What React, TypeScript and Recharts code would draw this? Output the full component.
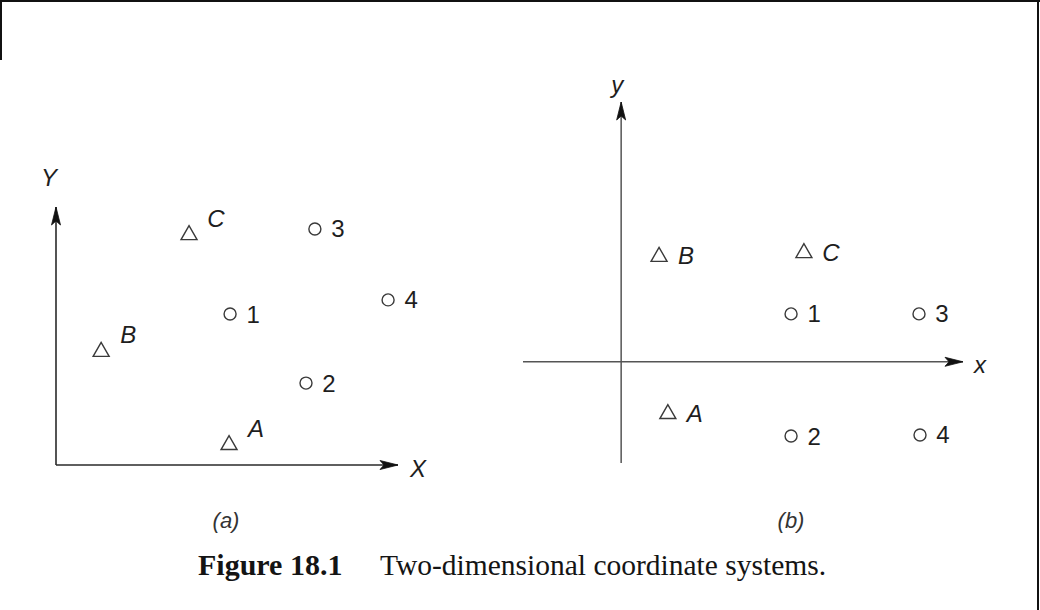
import React from "react";
import { ScatterChart, Scatter, XAxis, YAxis, ReferenceLine } from "recharts";

// Panel (a): measurement points (circles) and control points (triangles)
const aPoints = [
  { name: "1", x: 5.09, y: 4.68 },
  { name: "2", x: 7.31, y: 2.54 },
  { name: "3", x: 7.57, y: 7.32 },
  { name: "4", x: 9.71, y: 5.12 },
];
const aControl = [
  { name: "A", x: 5.06, y: 0.68 },
  { name: "B", x: 1.32, y: 3.57 },
  { name: "C", x: 3.89, y: 7.19 },
];
const aDomainX: [number, number] = [0, 10];
const aDomainY: [number, number] = [0, 8];
const aAxisNames = ["X", "Y"];

// Panel (b)
const bPoints = [
  { name: "1", x: 5.02, y: 1.42 },
  { name: "2", x: 5.02, y: -2.2 },
  { name: "3", x: 8.8, y: 1.42 },
  { name: "4", x: 8.83, y: -2.17 },
];
const bControl = [
  { name: "A", x: 1.38, y: -1.49 },
  { name: "B", x: 1.12, y: 3.17 },
  { name: "C", x: 5.4, y: 3.28 },
];
const bDomainX: [number, number] = [-2.9, 10.1];
const bDomainY: [number, number] = [-3, 7.7];
const bAxisNames = ["x", "y"];

const captions = ["(a)", "(b)"];
const figureLabel = "Figure 18.1";
const figureTitle = "Two-dimensional coordinate systems.";

const SANS = "'Liberation Sans', Arial, Helvetica, sans-serif";
const SERIF = "'Liberation Serif', 'Times New Roman', serif";
const MARK = "#3a3a3a";
const TEXT = "#1e1e1e";

const makeCircle = (dx: number, dy: number) => (props: any) => {
  const { cx, cy, payload } = props;
  return (
    <g>
      <circle cx={cx} cy={cy} r={6} fill="none" stroke={MARK} strokeWidth={1.4} />
      <text
        x={cx + dx}
        y={cy + dy}
        textAnchor="middle"
        dominantBaseline="central"
        fontFamily={SANS}
        fontSize={24}
        fill={TEXT}
      >
        {payload.name}
      </text>
    </g>
  );
};

const makeTriangle = (dx: number, dy: number) => (props: any) => {
  const { cx, cy, payload } = props;
  const h = 13;
  const w = 16;
  const pts = `${cx},${cy - h / 2 - 1} ${cx - w / 2},${cy + h / 2} ${cx + w / 2},${cy + h / 2}`;
  return (
    <g>
      <polygon points={pts} fill="none" stroke={MARK} strokeWidth={1.4} strokeLinejoin="miter" />
      <text
        x={cx + dx}
        y={cy + dy}
        textAnchor="middle"
        dominantBaseline="central"
        fontFamily={SANS}
        fontStyle="italic"
        fontSize={24}
        fill={TEXT}
      >
        {payload.name}
      </text>
    </g>
  );
};

const makeArrow = (dir: "right" | "up", label: string, ldx: number, ldy: number, color: string) => (props: any) => {
  const { cx, cy } = props;
  const L = 18;
  const W = 4.5;
  const pts =
    dir === "right"
      ? `${cx},${cy} ${cx - L},${cy - W} ${cx - L + 4},${cy} ${cx - L},${cy + W}`
      : `${cx},${cy} ${cx - W},${cy + L} ${cx},${cy + L - 4} ${cx + W},${cy + L}`;
  return (
    <g>
      <polygon points={pts} fill={color} stroke={color} strokeWidth={0.8} />
      <text
        x={cx + ldx}
        y={cy + ldy}
        textAnchor="middle"
        dominantBaseline="central"
        fontFamily={SANS}
        fontStyle="italic"
        fontSize={24}
        fill={TEXT}
      >
        {label}
      </text>
    </g>
  );
};

function PanelA() {
  const axisColor = "#2a2a2a";
  return (
    <div style={{ position: "absolute", left: 0, top: 0 }}>
      <ScatterChart width={520} height={500} margin={{ left: 56, right: 122, top: 207, bottom: 35 }}>
        <XAxis type="number" dataKey="x" domain={aDomainX} hide />
        <YAxis type="number" dataKey="y" domain={aDomainY} hide />
        <ReferenceLine
          segment={[{ x: aDomainX[0], y: 0 }, { x: aDomainX[1], y: 0 }]}
          stroke={axisColor}
          strokeWidth={1.6}
          ifOverflow="visible"
        />
        <ReferenceLine
          segment={[{ x: 0, y: aDomainY[0] }, { x: 0, y: aDomainY[1] }]}
          stroke={axisColor}
          strokeWidth={1.6}
          ifOverflow="visible"
        />
        <Scatter
          data={[{ x: aDomainX[1], y: 0 }]}
          shape={makeArrow("right", aAxisNames[0], 20, 3, "#111")}
          isAnimationActive={false}
        />
        <Scatter
          data={[{ x: 0, y: aDomainY[1] }]}
          shape={makeArrow("up", aAxisNames[1], -7, -30, "#111")}
          isAnimationActive={false}
        />
        <Scatter data={aPoints} shape={makeCircle(23, 0)} isAnimationActive={false} />
        <Scatter data={aControl} shape={makeTriangle(27, -15)} isAnimationActive={false} />
      </ScatterChart>
    </div>
  );
}

function PanelB() {
  const axisColor = "#555";
  return (
    <div style={{ position: "absolute", left: 500, top: 0 }}>
      <ScatterChart width={540} height={500} margin={{ left: 23, right: 77, top: 102, bottom: 37 }}>
        <XAxis type="number" dataKey="x" domain={bDomainX} hide />
        <YAxis type="number" dataKey="y" domain={bDomainY} hide />
        <ReferenceLine
          segment={[{ x: bDomainX[0], y: 0 }, { x: bDomainX[1], y: 0 }]}
          stroke={axisColor}
          strokeWidth={1.5}
          ifOverflow="visible"
        />
        <ReferenceLine
          segment={[{ x: 0, y: bDomainY[0] }, { x: 0, y: bDomainY[1] }]}
          stroke={axisColor}
          strokeWidth={1.5}
          ifOverflow="visible"
        />
        <Scatter
          data={[{ x: bDomainX[1], y: 0 }]}
          shape={makeArrow("right", bAxisNames[0], 17, 3, "#111")}
          isAnimationActive={false}
        />
        <Scatter
          data={[{ x: 0, y: bDomainY[1] }]}
          shape={makeArrow("up", bAxisNames[1], -4, -18, "#111")}
          isAnimationActive={false}
        />
        <Scatter data={bPoints} shape={makeCircle(23, 0)} isAnimationActive={false} />
        <Scatter data={bControl} shape={makeTriangle(27, 1)} isAnimationActive={false} />
      </ScatterChart>
    </div>
  );
}

export default function App() {
  const capStyle: React.CSSProperties = {
    position: "absolute",
    top: 521,
    transform: "translate(-50%, -50%)",
    fontFamily: SANS,
    fontSize: 22,
    fontStyle: "italic",
    color: "#333",
    whiteSpace: "nowrap",
  };
  return (
    <div style={{ position: "relative", width: 1040, height: 610, background: "#fff", overflow: "hidden" }}>
      <style>{"body{margin:0;}"}</style>
      {/* frame */}
      <div style={{ position: "absolute", left: 0, top: 0, width: 1040, height: 2, background: "#111" }} />
      <div style={{ position: "absolute", left: 0, top: 0, width: 2, height: 60, background: "#111" }} />
      <div style={{ position: "absolute", left: 1037, top: 0, width: 2, height: 610, background: "#111" }} />
      <PanelA />
      <PanelB />
      <div style={{ ...capStyle, left: 226 }}>{captions[0]}</div>
      <div style={{ ...capStyle, left: 791 }}>{captions[1]}</div>
      <div
        style={{
          position: "absolute",
          left: 198,
          top: 548,
          fontFamily: SERIF,
          fontSize: 30,
          fontWeight: "bold",
          color: "#141414",
          whiteSpace: "nowrap",
          lineHeight: "34px",
        }}
      >
        {figureLabel}
      </div>
      <div
        style={{
          position: "absolute",
          left: 380,
          top: 548,
          fontFamily: SERIF,
          fontSize: 29.5,
          color: "#141414",
          whiteSpace: "nowrap",
          lineHeight: "34px",
        }}
      >
        {figureTitle}
      </div>
    </div>
  );
}
